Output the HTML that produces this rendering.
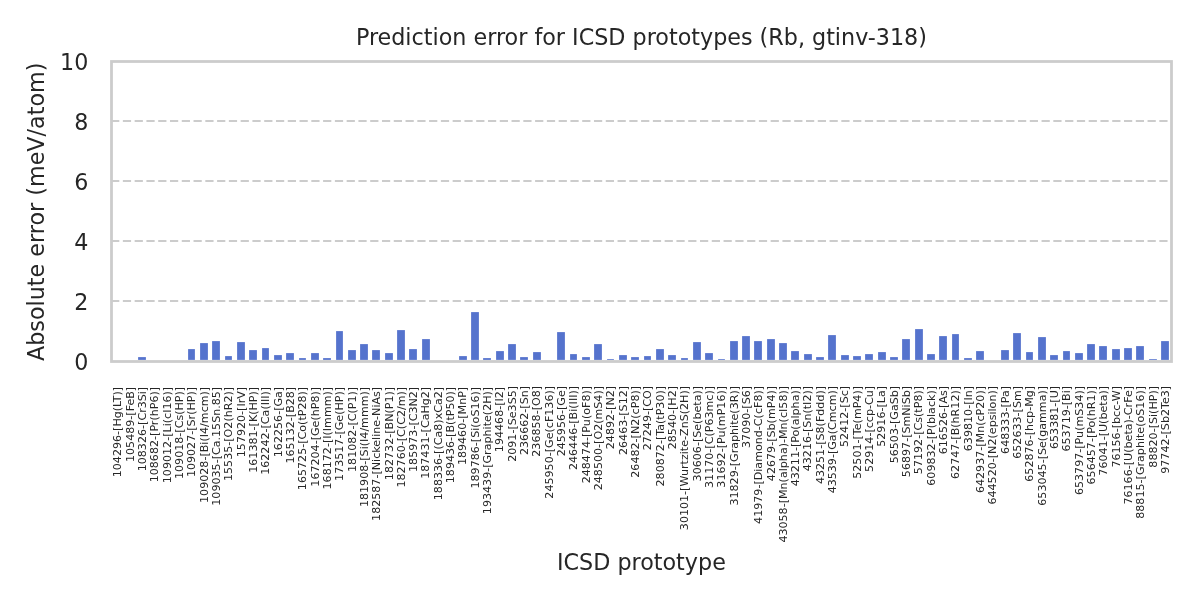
<!DOCTYPE html>
<html><head><meta charset="utf-8"><title>Prediction error for ICSD prototypes</title>
<style>html,body{margin:0;padding:0;background:#fff;}body{width:1200px;height:600px;overflow:hidden;}svg{display:block;will-change:transform;}text{font-family:'DejaVu Sans', 'Liberation Sans', sans-serif;fill:#262626;}</style></head><body>
<svg width="1200" height="600" viewBox="0 0 1200 600">
<rect x="0" y="0" width="1200" height="600" fill="#fff"/>
<line x1="111.09" y1="301" x2="1171.20" y2="301" stroke="#cccccc" stroke-width="2.22" stroke-dasharray="8.222 3.556"/>
<line x1="111.09" y1="241" x2="1171.20" y2="241" stroke="#cccccc" stroke-width="2.22" stroke-dasharray="8.222 3.556"/>
<line x1="111.09" y1="181" x2="1171.20" y2="181" stroke="#cccccc" stroke-width="2.22" stroke-dasharray="8.222 3.556"/>
<line x1="111.09" y1="121" x2="1171.20" y2="121" stroke="#cccccc" stroke-width="2.22" stroke-dasharray="8.222 3.556"/>
<g fill="#5573cd"><rect x="138.11" y="357.11" width="7.78" height="2.78"/><rect x="188.11" y="349.11" width="6.78" height="10.78"/><rect x="200.11" y="343.11" width="7.78" height="16.78"/><rect x="212.11" y="341.11" width="7.78" height="18.78"/><rect x="225.11" y="356.11" width="6.78" height="3.78"/><rect x="237.11" y="342.11" width="7.78" height="17.78"/><rect x="249.11" y="350.11" width="7.78" height="9.78"/><rect x="262.11" y="348.11" width="6.78" height="11.78"/><rect x="274.11" y="355.11" width="7.78" height="4.78"/><rect x="286.11" y="353.11" width="7.78" height="6.78"/><rect x="299.11" y="358.11" width="6.78" height="1.78"/><rect x="311.11" y="353.11" width="7.78" height="6.78"/><rect x="323.11" y="358.11" width="7.78" height="1.78"/><rect x="336.11" y="331.11" width="6.78" height="28.78"/><rect x="348.11" y="350.11" width="7.78" height="9.78"/><rect x="360.11" y="344.11" width="7.78" height="15.78"/><rect x="372.11" y="350.11" width="7.78" height="9.78"/><rect x="385.11" y="353.11" width="7.78" height="6.78"/><rect x="397.11" y="330.11" width="7.78" height="29.78"/><rect x="409.11" y="349.11" width="7.78" height="10.78"/><rect x="422.11" y="339.11" width="7.78" height="20.78"/><rect x="459.11" y="356.11" width="7.78" height="3.78"/><rect x="471.11" y="312.11" width="7.78" height="47.78"/><rect x="483.11" y="358.11" width="7.78" height="1.78"/><rect x="496.11" y="351.11" width="7.78" height="8.78"/><rect x="508.11" y="344.11" width="7.78" height="15.78"/><rect x="520.11" y="357.11" width="7.78" height="2.78"/><rect x="533.11" y="352.11" width="7.78" height="7.78"/><rect x="557.11" y="332.11" width="7.78" height="27.78"/><rect x="570.11" y="354.11" width="6.78" height="5.78"/><rect x="582.11" y="357.11" width="7.78" height="2.78"/><rect x="594.11" y="344.11" width="7.78" height="15.78"/><rect x="607.11" y="359.11" width="6.78" height="0.78"/><rect x="619.11" y="355.11" width="7.78" height="4.78"/><rect x="631.11" y="357.11" width="7.78" height="2.78"/><rect x="644.11" y="356.11" width="6.78" height="3.78"/><rect x="656.11" y="349.11" width="7.78" height="10.78"/><rect x="668.11" y="355.11" width="7.78" height="4.78"/><rect x="681.11" y="358.11" width="6.78" height="1.78"/><rect x="693.11" y="342.11" width="7.78" height="17.78"/><rect x="705.11" y="353.11" width="7.78" height="6.78"/><rect x="718.11" y="359.11" width="6.78" height="0.78"/><rect x="730.11" y="341.11" width="7.78" height="18.78"/><rect x="742.11" y="336.11" width="7.78" height="23.78"/><rect x="754.11" y="341.11" width="7.78" height="18.78"/><rect x="767.11" y="339.11" width="7.78" height="20.78"/><rect x="779.11" y="343.11" width="7.78" height="16.78"/><rect x="791.11" y="351.11" width="7.78" height="8.78"/><rect x="804.11" y="354.11" width="7.78" height="5.78"/><rect x="816.11" y="357.11" width="7.78" height="2.78"/><rect x="828.11" y="335.11" width="7.78" height="24.78"/><rect x="841.11" y="355.11" width="7.78" height="4.78"/><rect x="853.11" y="356.11" width="7.78" height="3.78"/><rect x="865.11" y="354.11" width="7.78" height="5.78"/><rect x="878.11" y="352.11" width="7.78" height="7.78"/><rect x="890.11" y="357.11" width="7.78" height="2.78"/><rect x="902.11" y="339.11" width="7.78" height="20.78"/><rect x="915.11" y="329.11" width="7.78" height="30.78"/><rect x="927.11" y="354.11" width="7.78" height="5.78"/><rect x="939.11" y="336.11" width="7.78" height="23.78"/><rect x="952.11" y="334.11" width="6.78" height="25.78"/><rect x="964.11" y="358.11" width="7.78" height="1.78"/><rect x="976.11" y="351.11" width="7.78" height="8.78"/><rect x="1001.11" y="350.11" width="7.78" height="9.78"/><rect x="1013.11" y="333.11" width="7.78" height="26.78"/><rect x="1026.11" y="352.11" width="6.78" height="7.78"/><rect x="1038.11" y="337.11" width="7.78" height="22.78"/><rect x="1050.11" y="355.11" width="7.78" height="4.78"/><rect x="1063.11" y="351.11" width="6.78" height="8.78"/><rect x="1075.11" y="353.11" width="7.78" height="6.78"/><rect x="1087.11" y="344.11" width="7.78" height="15.78"/><rect x="1099.11" y="346.11" width="7.78" height="13.78"/><rect x="1112.11" y="349.11" width="7.78" height="10.78"/><rect x="1124.11" y="348.11" width="7.78" height="11.78"/><rect x="1136.11" y="346.11" width="7.78" height="13.78"/><rect x="1149.11" y="359.11" width="7.78" height="0.78"/><rect x="1161.11" y="341.11" width="7.78" height="18.78"/></g>
<rect x="111.5" y="61.5" width="1060" height="300" fill="none" stroke="#cccccc" stroke-width="2.78"/>
<text x="88.3" y="369.50" font-size="22.2" text-anchor="end">0</text>
<text x="88.3" y="309.50" font-size="22.2" text-anchor="end">2</text>
<text x="88.3" y="249.50" font-size="22.2" text-anchor="end">4</text>
<text x="88.3" y="189.50" font-size="22.2" text-anchor="end">6</text>
<text x="88.3" y="129.50" font-size="22.2" text-anchor="end">8</text>
<text x="88.3" y="69.50" font-size="22.2" text-anchor="end">10</text>
<text x="641.4" y="44.8" font-size="22.26" text-anchor="middle">Prediction error for ICSD prototypes (Rb, gtinv-318)</text>
<text transform="translate(43.9,211.8) rotate(-90)" font-size="22.26" text-anchor="middle">Absolute error (meV/atom)</text>
<text x="641.4" y="569.8" font-size="22.26" text-anchor="middle">ICSD prototype</text>
<g font-size="11.1" text-anchor="end"><text transform="translate(121.43,386.8) rotate(-90)">104296-[Hg(LT)]</text><text transform="translate(133.75,386.8) rotate(-90)">105489-[FeB]</text><text transform="translate(146.07,386.8) rotate(-90)">108326-[Cr3Si]</text><text transform="translate(158.39,386.8) rotate(-90)">108682-[Pr(hP6)]</text><text transform="translate(170.72,386.8) rotate(-90)">109012-[Li(cI16)]</text><text transform="translate(183.04,386.8) rotate(-90)">109018-[Cs(HP)]</text><text transform="translate(195.36,386.8) rotate(-90)">109027-[Sr(HP)]</text><text transform="translate(207.68,386.8) rotate(-90)">109028-[Bi(I4/mcm)]</text><text transform="translate(220.01,386.8) rotate(-90)">109035-[Ca.15Sn.85]</text><text transform="translate(232.33,386.8) rotate(-90)">15535-[O2(hR2)]</text><text transform="translate(244.65,386.8) rotate(-90)">157920-[IrV]</text><text transform="translate(256.97,386.8) rotate(-90)">161381-[K(HP)]</text><text transform="translate(269.30,386.8) rotate(-90)">162242-[Ca(III)]</text><text transform="translate(281.62,386.8) rotate(-90)">162256-[Ga]</text><text transform="translate(293.94,386.8) rotate(-90)">165132-[B28]</text><text transform="translate(306.26,386.8) rotate(-90)">165725-[Co(tP28)]</text><text transform="translate(318.59,386.8) rotate(-90)">167204-[Ge(hP8)]</text><text transform="translate(330.91,386.8) rotate(-90)">168172-[I(Immm)]</text><text transform="translate(343.23,386.8) rotate(-90)">173517-[Ge(HP)]</text><text transform="translate(355.55,386.8) rotate(-90)">181082-[C(P1)]</text><text transform="translate(367.88,386.8) rotate(-90)">181908-[Si(I4/mmm)]</text><text transform="translate(380.20,386.8) rotate(-90)">182587-[Nickeline-NiAs]</text><text transform="translate(392.52,386.8) rotate(-90)">182732-[BN(P1)]</text><text transform="translate(404.84,386.8) rotate(-90)">182760-[C(C2/m)]</text><text transform="translate(417.17,386.8) rotate(-90)">185973-[C3N2]</text><text transform="translate(429.49,386.8) rotate(-90)">187431-[CaHg2]</text><text transform="translate(441.81,386.8) rotate(-90)">188336-[(Ca8)xCa2]</text><text transform="translate(454.13,386.8) rotate(-90)">189436-[B(tP50)]</text><text transform="translate(466.46,386.8) rotate(-90)">189460-[MnP]</text><text transform="translate(478.78,386.8) rotate(-90)">189786-[Si(oS16)]</text><text transform="translate(491.10,386.8) rotate(-90)">193439-[Graphite(2H)]</text><text transform="translate(503.42,386.8) rotate(-90)">194468-[I2]</text><text transform="translate(515.75,385.9) rotate(-90)">2091-[Se3S5]</text><text transform="translate(528.07,385.9) rotate(-90)">236662-[Sn]</text><text transform="translate(540.39,385.9) rotate(-90)">236858-[O8]</text><text transform="translate(552.71,385.9) rotate(-90)">245950-[Ge(cF136)]</text><text transform="translate(565.04,385.9) rotate(-90)">245956-[Ge]</text><text transform="translate(577.36,385.9) rotate(-90)">246446-[Bi(III)]</text><text transform="translate(589.68,385.9) rotate(-90)">248474-[Pu(oF8)]</text><text transform="translate(602.00,385.9) rotate(-90)">248500-[O2(mS4)]</text><text transform="translate(614.33,385.9) rotate(-90)">24892-[N2]</text><text transform="translate(626.65,385.9) rotate(-90)">26463-[S12]</text><text transform="translate(638.97,385.9) rotate(-90)">26482-[N2(cP8)]</text><text transform="translate(651.29,385.9) rotate(-90)">27249-[CO]</text><text transform="translate(663.62,385.9) rotate(-90)">280872-[Ta(tP30)]</text><text transform="translate(675.94,385.9) rotate(-90)">28540-[H2]</text><text transform="translate(688.26,385.9) rotate(-90)">30101-[Wurtzite-ZnS(2H)]</text><text transform="translate(700.58,385.9) rotate(-90)">30606-[Se(beta)]</text><text transform="translate(712.91,385.9) rotate(-90)">31170-[C(P63mc)]</text><text transform="translate(725.23,385.9) rotate(-90)">31692-[Pu(mP16)]</text><text transform="translate(737.55,385.9) rotate(-90)">31829-[Graphite(3R)]</text><text transform="translate(749.87,385.9) rotate(-90)">37090-[S6]</text><text transform="translate(762.20,385.9) rotate(-90)">41979-[Diamond-C(cF8)]</text><text transform="translate(774.52,385.9) rotate(-90)">42679-[Sb(mP4)]</text><text transform="translate(786.84,385.9) rotate(-90)">43058-[Mn(alpha)-Mn(cI58)]</text><text transform="translate(799.16,385.9) rotate(-90)">43211-[Po(alpha)]</text><text transform="translate(811.49,385.9) rotate(-90)">43216-[Sn(tI2)]</text><text transform="translate(823.81,385.9) rotate(-90)">43251-[S8(Fddd)]</text><text transform="translate(836.13,385.9) rotate(-90)">43539-[Ga(Cmcm)]</text><text transform="translate(848.45,385.9) rotate(-90)">52412-[Sc]</text><text transform="translate(860.78,385.9) rotate(-90)">52501-[Te(mP4)]</text><text transform="translate(873.10,385.9) rotate(-90)">52914-[ccp-Cu]</text><text transform="translate(885.42,385.9) rotate(-90)">52916-[La]</text><text transform="translate(897.74,385.9) rotate(-90)">56503-[GaSb]</text><text transform="translate(910.07,385.9) rotate(-90)">56897-[SmNiSb]</text><text transform="translate(922.39,385.9) rotate(-90)">57192-[Cs(tP8)]</text><text transform="translate(934.71,385.9) rotate(-90)">609832-[P(black)]</text><text transform="translate(947.03,385.9) rotate(-90)">616526-[As]</text><text transform="translate(959.36,385.9) rotate(-90)">62747-[B(hR12)]</text><text transform="translate(971.68,385.9) rotate(-90)">639810-[In]</text><text transform="translate(984.00,385.9) rotate(-90)">642937-[Mn(cP20)]</text><text transform="translate(996.32,385.9) rotate(-90)">644520-[N2(epsilon)]</text><text transform="translate(1008.65,385.9) rotate(-90)">648333-[Pa]</text><text transform="translate(1020.97,385.9) rotate(-90)">652633-[Sm]</text><text transform="translate(1033.29,385.9) rotate(-90)">652876-[hcp-Mg]</text><text transform="translate(1045.61,385.9) rotate(-90)">653045-[Se(gamma)]</text><text transform="translate(1057.94,385.9) rotate(-90)">653381-[U]</text><text transform="translate(1070.26,385.9) rotate(-90)">653719-[Bi]</text><text transform="translate(1082.58,385.9) rotate(-90)">653797-[Pu(mS34)]</text><text transform="translate(1094.90,385.9) rotate(-90)">656457-[Po(hR1)]</text><text transform="translate(1107.23,385.9) rotate(-90)">76041-[U(beta)]</text><text transform="translate(1119.55,385.9) rotate(-90)">76156-[bcc-W]</text><text transform="translate(1131.87,385.9) rotate(-90)">76166-[U(beta)-CrFe]</text><text transform="translate(1144.19,385.9) rotate(-90)">88815-[Graphite(oS16)]</text><text transform="translate(1156.52,385.9) rotate(-90)">88820-[Si(HP)]</text><text transform="translate(1168.84,385.9) rotate(-90)">97742-[Sb2Te3]</text></g>
</svg></body></html>
